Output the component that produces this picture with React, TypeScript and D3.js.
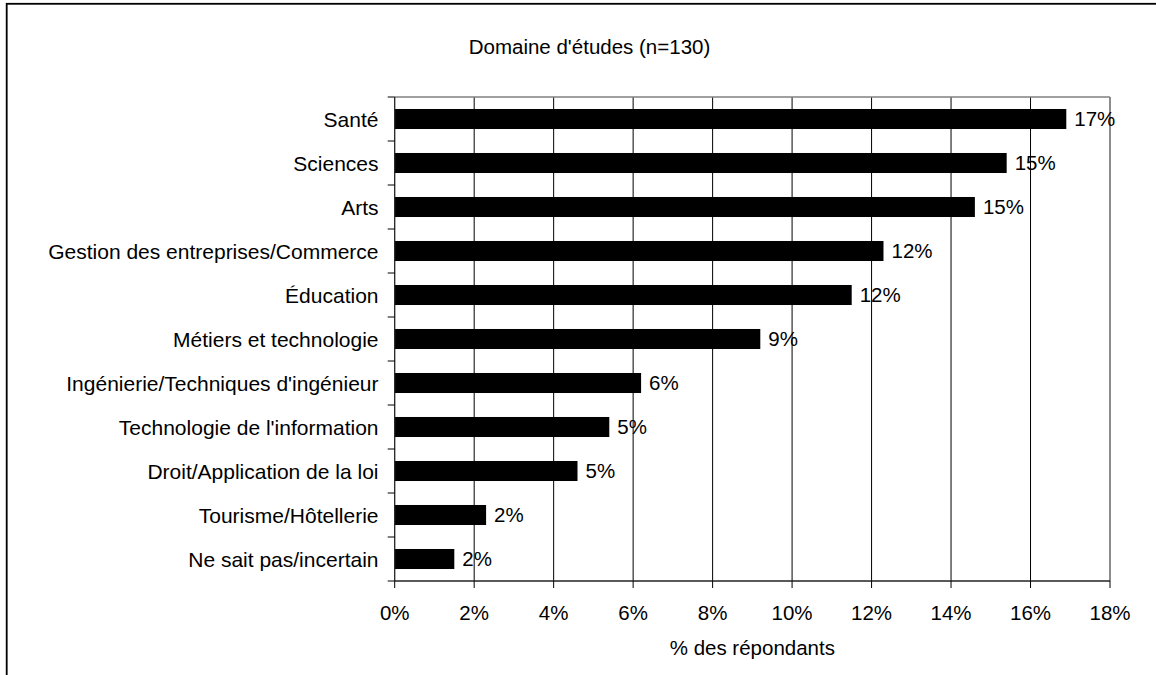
import React from "react";
import * as d3 from "d3";

const title = "Domaine d'études (n=130)";
const xAxisTitle = "% des répondants";
const categories = [
  "Santé",
  "Sciences",
  "Arts",
  "Gestion des entreprises/Commerce",
  "Éducation",
  "Métiers et technologie",
  "Ingénierie/Techniques d'ingénieur",
  "Technologie de l'information",
  "Droit/Application de la loi",
  "Tourisme/Hôtellerie",
  "Ne sait pas/incertain",
];
const values = [16.9, 15.4, 14.6, 12.3, 11.5, 9.2, 6.2, 5.4, 4.6, 2.3, 1.5];
const valueLabels = ["17%", "15%", "15%", "12%", "12%", "9%", "6%", "5%", "5%", "2%", "2%"];
const xTicks = [0, 2, 4, 6, 8, 10, 12, 14, 16, 18];

const W = 1156;
const H = 675;
const plot = { left: 394.7, right: 1110, top: 97, bottom: 581 };
const FONT = "'Liberation Sans', Arial, Helvetica, sans-serif";
const FS = 20.5;
const FS_CAT = 21;

export default function App() {
  const x = d3.scaleLinear().domain([0, 18]).range([plot.left, plot.right]);
  const y = d3
    .scaleBand<string>()
    .domain(categories)
    .range([plot.top, plot.bottom])
    .paddingInner(0.545)
    .paddingOuter(0.2725);
  const step = y.step();
  const boundaries = d3.range(categories.length + 1).map((i) => plot.top + i * step);

  return (
    <svg
      width={W}
      height={H}
      style={{ position: "absolute", left: 0, top: 0, background: "#fff" }}
      fontFamily={FONT}
      fontSize={FS}
    >
      <rect x={0} y={0} width={W} height={H} fill="#fff" />
      {/* outer frame */}
      <rect x={6.7} y={3.8} width={1300} height={800} fill="none" stroke="#000" strokeWidth={1.8} />

      {/* title */}
      <text x={589.5} y={54} textAnchor="middle" fill="#000">
        {title}
      </text>

      {/* gridlines */}
      {xTicks.slice(1, -1).map((t) => (
        <line key={"g" + t} x1={x(t)} x2={x(t)} y1={plot.top} y2={plot.bottom} stroke="#000" strokeWidth={1} />
      ))}

      {/* plot border top/right */}
      <line x1={plot.left} x2={plot.right} y1={plot.top} y2={plot.top} stroke="#808080" strokeWidth={1.5} />
      <line x1={plot.right} x2={plot.right} y1={plot.top} y2={plot.bottom} stroke="#808080" strokeWidth={1.8} />

      {/* bars */}
      {categories.map((c, i) => (
        <rect
          key={c}
          x={x(0)}
          y={y(c)}
          width={x(values[i]) - x(0)}
          height={y.bandwidth()}
          fill="#000"
        />
      ))}

      {/* value labels */}
      {categories.map((c, i) => (
        <text
          key={"v" + c}
          x={x(values[i]) + 8}
          y={(y(c) as number) + y.bandwidth() / 2}
          dy="0.36em"
          fill="#000"
        >
          {valueLabels[i]}
        </text>
      ))}

      {/* y axis */}
      <line x1={plot.left} x2={plot.left} y1={plot.top} y2={plot.bottom} stroke="#222" strokeWidth={1.3} />
      {boundaries.map((b, i) => (
        <line key={"yt" + i} x1={plot.left - 7} x2={plot.left} y1={b} y2={b} stroke="#000" strokeWidth={1} />
      ))}
      {categories.map((c) => (
        <text
          key={"yl" + c}
          x={378.5}
          y={(y(c) as number) + y.bandwidth() / 2}
          dy="0.36em"
          textAnchor="end"
          fontSize={FS_CAT}
          fill="#000"
        >
          {c}
        </text>
      ))}

      {/* x axis */}
      <line x1={plot.left} x2={plot.right} y1={plot.bottom} y2={plot.bottom} stroke="#222" strokeWidth={1.3} />
      {xTicks.map((t) => (
        <g key={"xt" + t}>
          <line x1={x(t)} x2={x(t)} y1={plot.bottom} y2={plot.bottom + 7} stroke="#000" strokeWidth={1} />
          <text x={x(t)} y={620} textAnchor="middle" fill="#000">
            {t + "%"}
          </text>
        </g>
      ))}
      <text x={(plot.left + plot.right) / 2} y={655} textAnchor="middle" fill="#000">
        {xAxisTitle}
      </text>
    </svg>
  );
}
